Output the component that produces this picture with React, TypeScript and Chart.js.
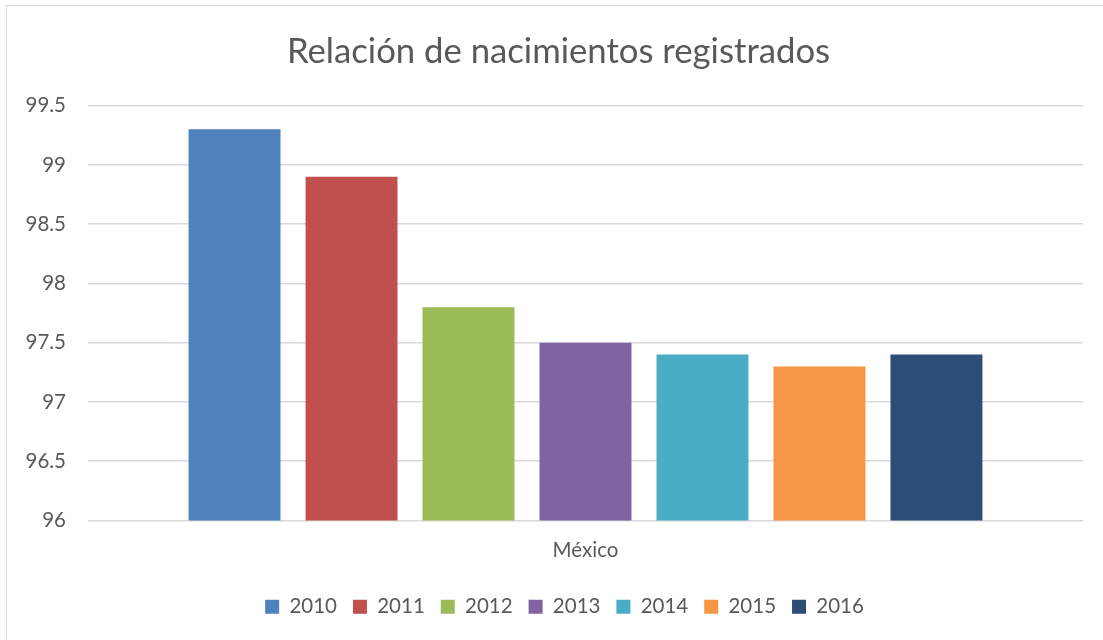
import React, { useEffect, useRef } from "react";
import { Chart, registerables } from "chart.js";

Chart.register(...registerables);

const categories = ["México"];
const years = ["2010", "2011", "2012", "2013", "2014", "2015", "2016"];
const values = [99.3, 98.9, 97.8, 97.5, 97.4, 97.3, 97.4];
const colors = ["#4F81BD", "#C0504D", "#9BBB59", "#8064A2", "#4BACC6", "#F79646", "#2C4D75"];
const yMin = 96;
const yMax = 99.5;
const yStep = 0.5;
const title = "Relación de nacimientos registrados";

const FONT = "Lato, 'Open Sans', sans-serif";
const TEXT = "#595959";

const shiftPlugin = {
  id: "shiftBlocks",
  afterLayout(chart: any) {
    const l = chart.legend;
    if (l) { l.left += 13; l.right += 13; }
    const t = chart.titleBlock;
    if (t) { t.left += 7; t.right += 7; }
  },
};

export default function App() {
  const ref = useRef<HTMLCanvasElement | null>(null);
  useEffect(() => {
    if (!ref.current) return;
    const chart = new Chart(ref.current, {
      type: "bar",
      data: {
        labels: categories,
        datasets: years.map((y, i) => ({
          label: y,
          data: [values[i]],
          backgroundColor: colors[i],
          borderWidth: 0,
          categoryPercentage: 0.823,
          barPercentage: 0.786,
        })),
      },
      plugins: [shiftPlugin],
      options: {
        animation: false,
        responsive: false,
        maintainAspectRatio: false,
        layout: { padding: { left: 20, right: 20, top: 31, bottom: 13 } },
        plugins: {
          title: {
            display: true,
            text: title,
            color: TEXT,
            font: { family: FONT, size: 34.7, weight: "normal" },
            padding: { top: 0, bottom: 33 },
          },
          legend: {
            position: "bottom",
            labels: {
              color: TEXT,
              font: { family: FONT, size: 20.5 },
              boxWidth: 14,
              boxHeight: 14,
              padding: 16,
            },
          },
          tooltip: { enabled: false },
        },
        scales: {
          x: {
            grid: { display: false, drawTicks: false },
            border: { display: false },
            ticks: { color: TEXT, font: { family: FONT, size: 20.5 }, padding: 18 },
            afterFit: (s: any) => { s.height = 60; },
          },
          y: {
            min: yMin,
            max: yMax,
            grid: { color: "#d9d9d9", lineWidth: 1.5, drawTicks: false },
            border: { display: false },
            ticks: {
              stepSize: yStep,
              color: TEXT,
              font: { family: FONT, size: 20.5 },
              padding: 22,
              callback: (v: any) => String(Number(v)),
            },
            afterFit: (s: any) => { s.width = 68; },
          },
        },
      },
    });
    return () => chart.destroy();
  }, []);
  return (
    <div style={{ position: "fixed", left: 0, top: 0, width: 1103, height: 640, background: "#fff", overflow: "hidden" }}>
      <div style={{ position: "absolute", left: 6, top: 5, width: 1110, height: 650, borderLeft: "1.5px solid #d9d9d9", borderTop: "1.5px solid #d9d9d9" }} />
      <canvas ref={ref} width={1103} height={640} style={{ position: "absolute", left: 0, top: 0 }} />
    </div>
  );
}
